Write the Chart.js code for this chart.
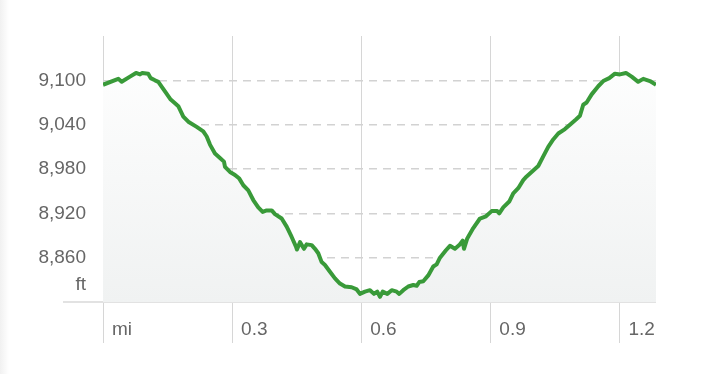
<!DOCTYPE html>
<html>
<head>
<meta charset="utf-8">
<script src="https://cdn.jsdelivr.net/npm/chart.js@4/dist/chart.umd.min.js"></script>
<style>
    html, body { margin: 0; padding: 0; }
    body { width: 702px; height: 374px; background: linear-gradient(to right, #f1f1f1 0, #fff 9px); }
    #wrap { position: absolute; left: 0; top: 0; width: 702px; height: 374px; }
</style>
</head>
<body>
<div id="wrap"><canvas id="chart" width="702" height="374"></canvas></div>
<script>
"use strict";

// distance along the trail (mi) and elevation (ft)
const distances = [
    0, 0.0355, 0.0434, 0.0627, 0.0767, 0.086, 0.0913, 0.105, 0.1108, 0.1208, 0.1285,
    0.144, 0.1573, 0.1673, 0.175, 0.1866, 0.1982, 0.2177, 0.233, 0.241, 0.2486,
    0.2602, 0.2718, 0.2811, 0.2835, 0.2951, 0.3067, 0.3167, 0.326, 0.3376, 0.3492,
    0.3608, 0.371, 0.3803, 0.392, 0.3996, 0.4152, 0.4268, 0.4384, 0.4484, 0.4507,
    0.4577, 0.467, 0.4733, 0.4849, 0.4926, 0.5002, 0.5081, 0.5158, 0.5274, 0.539,
    0.5506, 0.5623, 0.5778, 0.5895, 0.5971, 0.6087, 0.6204, 0.6297, 0.6373, 0.6436,
    0.6499, 0.6606, 0.6708, 0.6824, 0.6884, 0.6977, 0.7093, 0.721, 0.7289, 0.7349,
    0.7442, 0.7558, 0.7674, 0.7753, 0.783, 0.7969, 0.8062, 0.8178, 0.8278, 0.8357,
    0.8388, 0.8464, 0.8604, 0.8759, 0.8899, 0.9031, 0.9161, 0.9208, 0.9301, 0.944,
    0.9533, 0.9649, 0.9765, 0.9844, 0.9998, 1.0114, 1.023, 1.0346, 1.0462, 1.0579,
    1.0734, 1.085, 1.099, 1.1083, 1.1159, 1.1238, 1.1355, 1.1508, 1.1624, 1.1764,
    1.1896, 1.2012, 1.2152, 1.2284, 1.2437, 1.2554, 1.2709, 1.285
];
const elevations = [
    9094, 9102, 9098, 9105, 9110, 9108, 9110, 9109, 9103, 9100, 9098,
    9085, 9074, 9069, 9065, 9051, 9044, 9037, 9031, 9024, 9013,
    9001, 8995, 8990, 8983, 8976, 8972, 8967, 8958, 8951, 8938,
    8928, 8922, 8924, 8924, 8919, 8913, 8902, 8888, 8875, 8871,
    8881, 8872, 8878, 8877, 8872, 8866, 8854, 8850, 8841, 8832,
    8825, 8821, 8820, 8817, 8811, 8814, 8816, 8811, 8814, 8807,
    8814, 8811, 8816, 8814, 8811, 8816, 8821, 8823, 8822, 8827,
    8828, 8836, 8848, 8851, 8860, 8870, 8876, 8872, 8877, 8883,
    8872, 8886, 8900, 8913, 8916, 8923, 8923, 8920, 8928, 8936,
    8947, 8954, 8965, 8970, 8978, 8984, 8997, 9010, 9020, 9028,
    9034, 9040, 9047, 9052, 9067, 9070, 9081, 9092, 9099, 9103,
    9109, 9108, 9110, 9105, 9098, 9102, 9099, 9094
];

const xMin = 0;
const xMax = 1.285;
const xStep = 0.3;
const yMin = 8800;
const yMax = 9160;
const yStep = 60;
const xUnit = "mi";
const yUnit = "ft";

const lineGreen = "#399a39";
const labelGrey = "#666";
const gridGrey = "#d6d6d6";
const dashGrey = "#d2d2d2";
const baseGrey = "#e2e2e2";

const points = distances.map((d, i) => ({x: d, y: elevations[i]}));

const areaFill = (ctx) => {
    const area = ctx.chart.chartArea;
    if (!area) { return "rgba(0,0,0,0)"; }
    const g = ctx.chart.ctx.createLinearGradient(0, area.top, 0, area.bottom);
    g.addColorStop(0, "rgba(255,255,255,1)");
    g.addColorStop(1, "#f0f2f2");
    return g;
};

const isBase = (ctx) => ctx.tick && ctx.tick.value === yMin;
const isTop = (ctx) => ctx.tick && ctx.tick.value === yMax;

new Chart(document.getElementById("chart"), {
    type: "line",
    data: {
        datasets: [{
            data: points,
            borderColor: lineGreen,
            borderWidth: 4,
            borderJoinStyle: "round",
            backgroundColor: areaFill,
            fill: "start",
            tension: 0,
            pointRadius: 0
        }]
    },
    options: {
        responsive: false,
        animation: false,
        events: [],
        layout: { padding: { top: 36, right: 46, bottom: 0, left: 0 } },
        plugins: { legend: { display: false }, tooltip: { enabled: false } },
        scales: {
            x: {
                type: "linear",
                min: xMin,
                max: xMax,
                afterFit: (s) => { s.height = 72; },
                border: { display: false },
                grid: { color: gridGrey, lineWidth: 1, tickLength: 41, tickColor: gridGrey },
                ticks: {
                    stepSize: xStep,
                    includeBounds: false,
                    autoSkip: false,
                    align: "start",
                    labelOffset: 9,
                    padding: -25,
                    maxRotation: 0,
                    color: labelGrey,
                    font: { family: "'Liberation Sans', Arial, sans-serif", size: 19 },
                    callback: (v) => v === 0 ? xUnit : v.toFixed(1)
                }
            },
            y: {
                type: "linear",
                min: yMin,
                max: yMax,
                afterFit: (s) => { s.width = 103; },
                border: { display: false, dash: (ctx) => isBase(ctx) ? [] : [8, 6] },
                grid: {
                    color: (ctx) => isTop(ctx) ? "rgba(0,0,0,0)" : (isBase(ctx) ? baseGrey : dashGrey),
                    lineWidth: (ctx) => isBase(ctx) ? 2 : 1.5,
                    tickLength: 40,
                    tickColor: (ctx) => isBase(ctx) ? baseGrey : "rgba(0,0,0,0)",
                    tickWidth: 2
                },
                ticks: {
                    stepSize: yStep,
                    autoSkip: false,
                    padding: -23,
                    color: labelGrey,
                    font: (ctx) => ({
                        family: "'Liberation Sans', Arial, sans-serif",
                        size: 19,
                        lineHeight: isBase(ctx) ? 1.85 : 1.2
                    }),
                    callback: (v) => {
                        if (v === yMax) { return ""; }
                        if (v === yMin) { return [yUnit, ""]; }
                        return v.toLocaleString("en-US");
                    }
                }
            }
        }
    }
});
</script>
</body>
</html>
